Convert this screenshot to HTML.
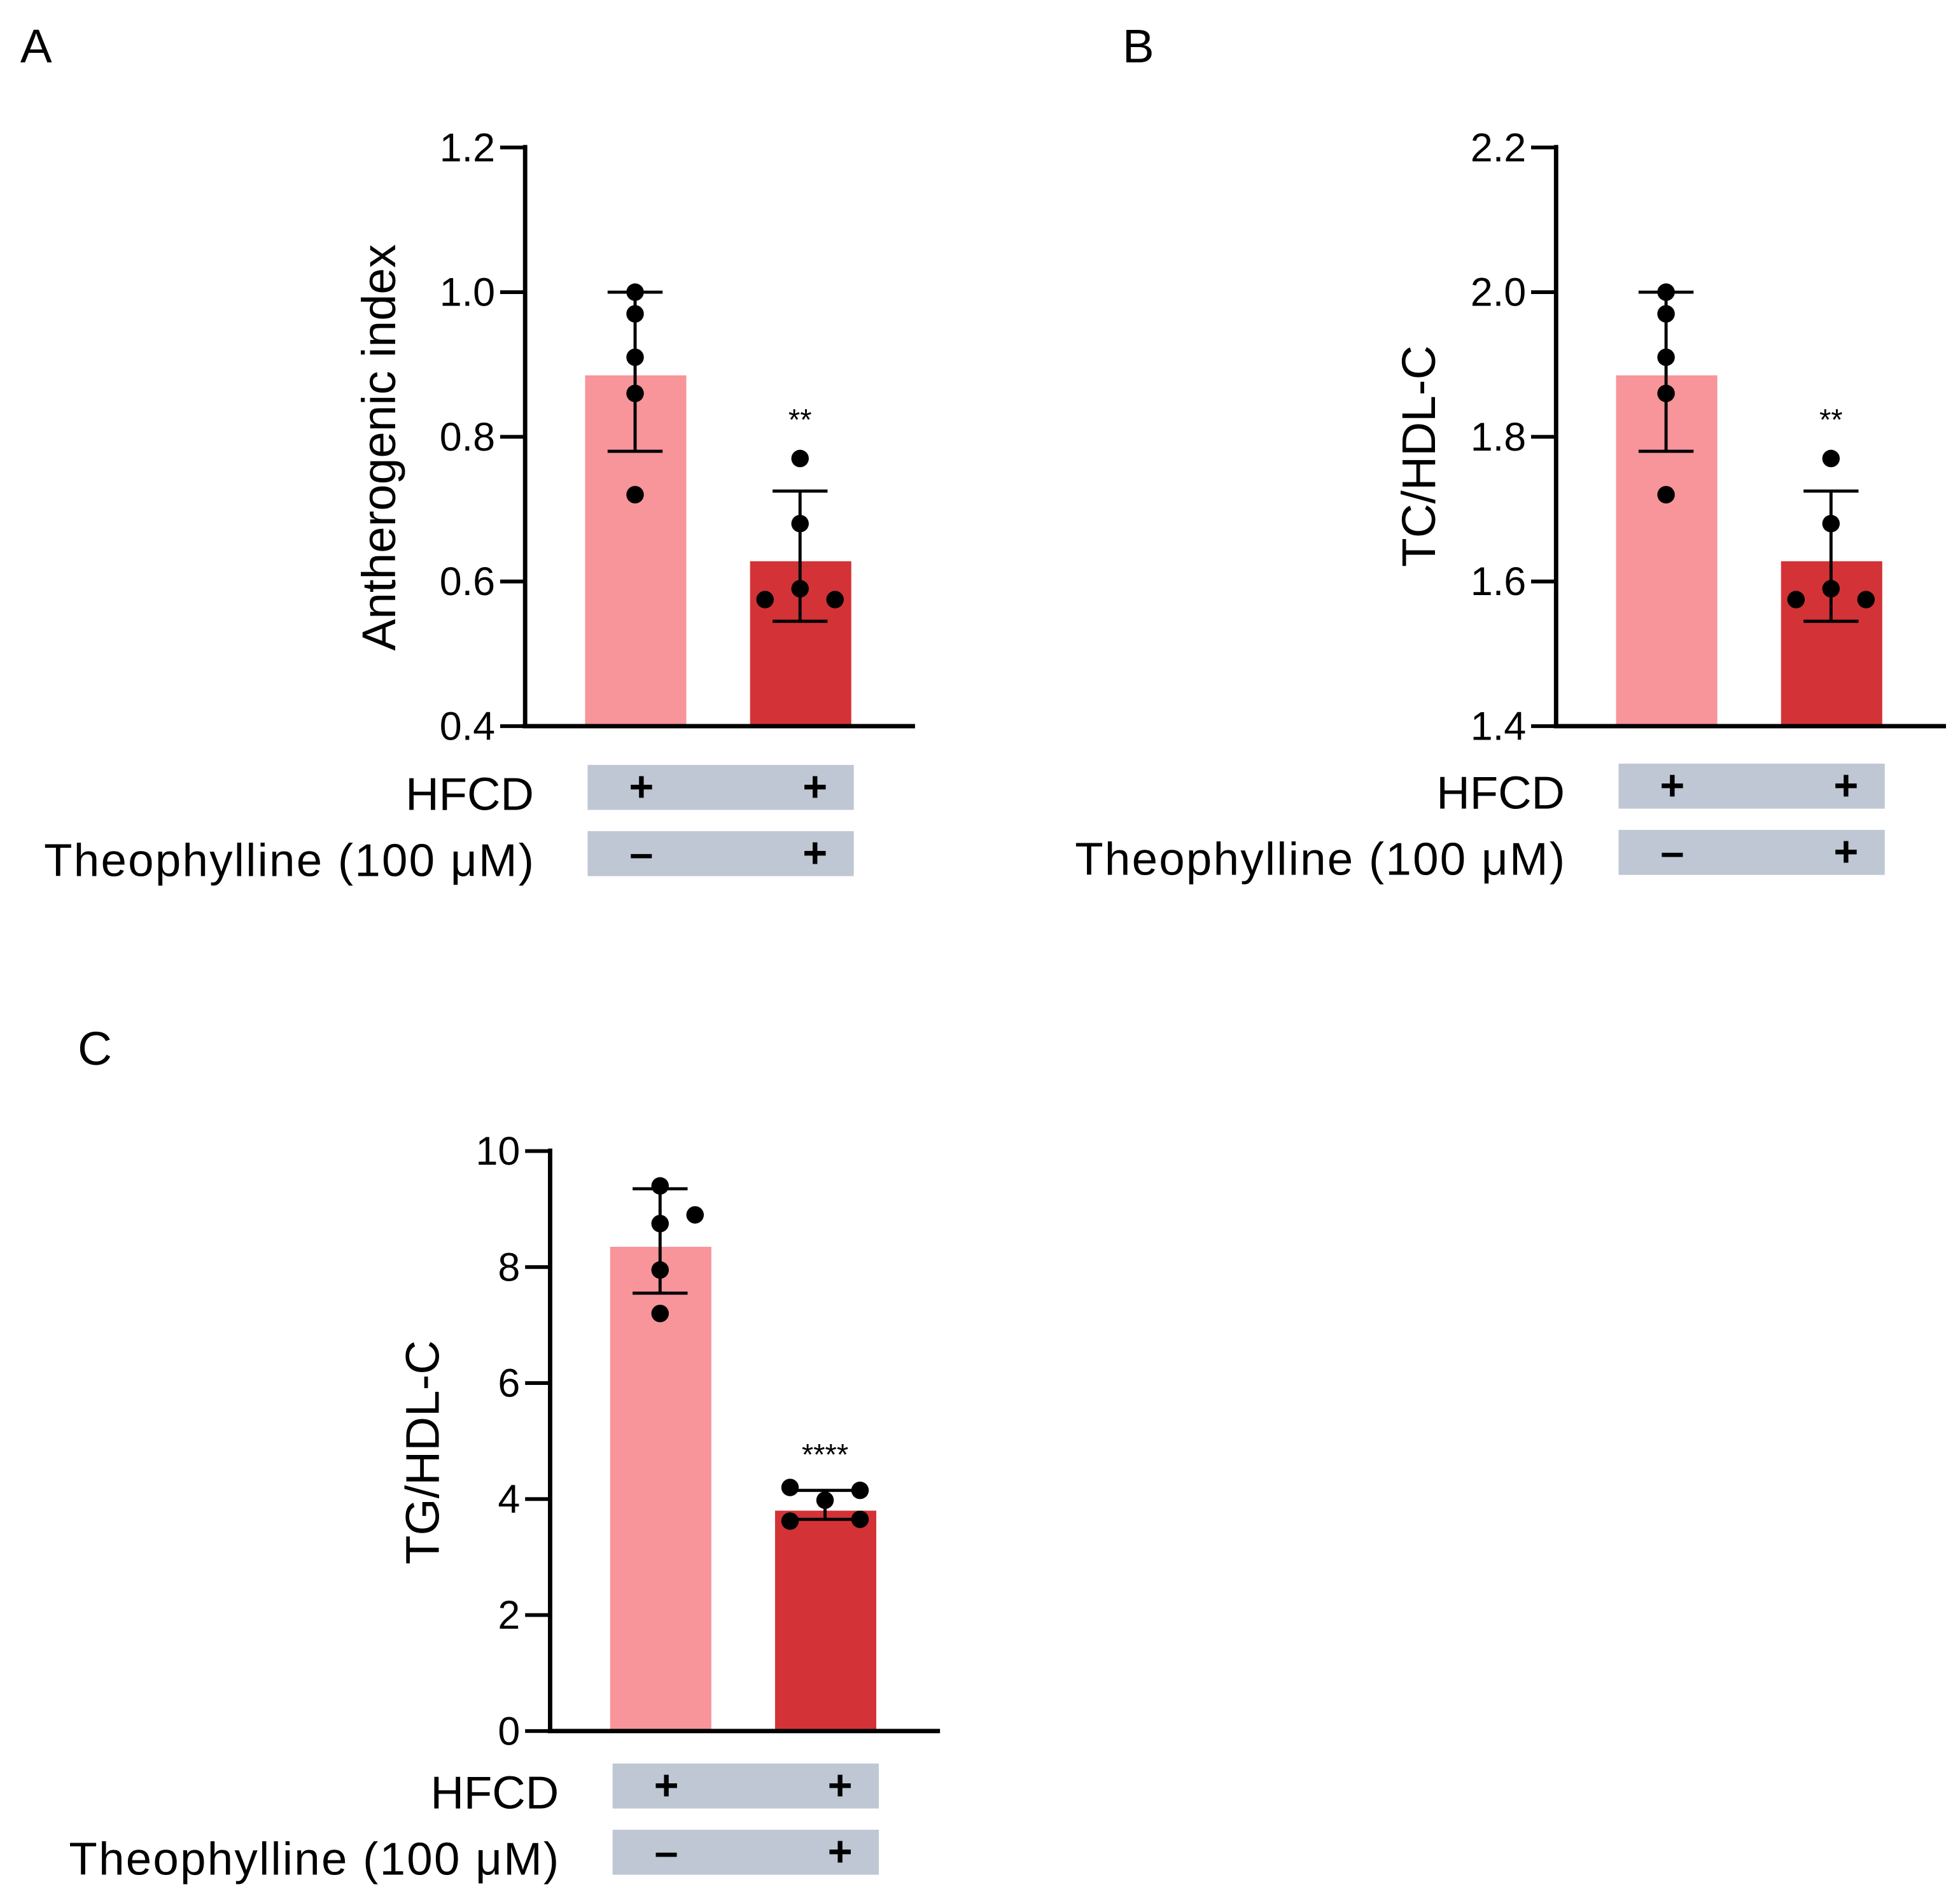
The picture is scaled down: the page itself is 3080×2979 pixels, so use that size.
<!DOCTYPE html>
<html><head><meta charset="utf-8"><style>
html,body{margin:0;padding:0;background:#fff;}
svg{display:block;font-family:"Liberation Sans",Arial,sans-serif;}
</style></head><body>
<svg id="fig" width="3080" height="2979" viewBox="0 0 1568 1517" xmlns="http://www.w3.org/2000/svg"></svg>
<script>
// Panel A data
const catsA = ["HFCD", "HFCD + Theophylline"];
const meansA = [0.885, 0.628];
const errLoA = [0.78, 0.545];
const errHiA = [1.0, 0.725];
const ptsA1 = [1.0, 0.97, 0.91, 0.86, 0.72];
const ptsA2 = [0.77, 0.68, 0.59, 0.575, 0.575];
const ticksA = [0.4, 0.6, 0.8, 1.0, 1.2];
const tickLabelsA = ["0.4", "0.6", "0.8", "1.0", "1.2"];
// Panel B data
const meansB = [1.885, 1.628];
const errLoB = [1.78, 1.545];
const errHiB = [2.0, 1.725];
const ptsB1 = [2.0, 1.97, 1.91, 1.86, 1.72];
const ptsB2 = [1.77, 1.68, 1.59, 1.575, 1.575];
const ticksB = [1.4, 1.6, 1.8, 2.0, 2.2];
const tickLabelsB = ["1.4", "1.6", "1.8", "2.0", "2.2"];
// Panel C data
const meansC = [8.35, 3.8];
const errLoC = [7.55, 3.65];
const errHiC = [9.35, 4.15];
const ptsC1 = [9.4, 8.9, 8.75, 7.95, 7.2];
const ptsC2 = [4.2, 3.98, 4.15, 3.62, 3.65];
const ticksC = [0, 2, 4, 6, 8, 10];
const tickLabelsC = ["0", "2", "4", "6", "8", "10"];
const sigLabels = ["**", "**", "****"];

const NS = "http://www.w3.org/2000/svg";
const svg = document.getElementById("fig");
function mk(tag, attrs, parent, text) {
  const e = document.createElementNS(NS, tag);
  for (const k in attrs) e.setAttribute(k, attrs[k]);
  if (text !== undefined) e.textContent = text;
  (parent || svg).appendChild(e);
  return e;
}

function panel(cfg) {
  const g = mk("g", {});
  
  
  const lo = cfg.ticks[0], hi = cfg.ticks[cfg.ticks.length - 1];
  const y = v => cfg.yBot - (v - lo) / (hi - lo) * (cfg.yBot - cfg.yTop);
  const ax = cfg.axX;
  const L = mk("text", {x: cfg.letterX, y: cfg.letterY, "font-size": 38}, g, cfg.letter);
  
  
  const cols = ["#f7959a", "#d33336"];
  const centers = [ax + 88, ax + 220];
  const pts = [cfg.p1, cfg.p2];
  const offs = [cfg.o1, cfg.o2];
  for (let i = 0; i < 2; i++) {
    const b = mk("rect", {x: centers[i] - 40, y: y(cfg.means[i]), width: 81, height: y(lo) - y(cfg.means[i]), fill: cols[i]}, g);
    
    
    const eb = mk("path", {d: `M${centers[i]} ${y(cfg.lo[i])}V${y(cfg.hi[i])}M${centers[i]-22} ${y(cfg.lo[i])}h44M${centers[i]-22} ${y(cfg.hi[i])}h44`, stroke: "#000", "stroke-width": 2.5, fill: "none"}, g);
    
    
    pts[i].forEach((v, j) => {
      const c = mk("circle", {cx: centers[i] + offs[i][j], cy: y(v), r: 7, fill: "#000"}, g);
      
      
    });
  }
  const s = mk("text", {x: centers[1], y: cfg.sigY, "font-size": 24, "text-anchor": "middle"}, g, cfg.sig);
  
  
  const axes = mk("path", {d: `M${ax} ${cfg.yTop-2}V${cfg.yBot}M${ax-2} ${cfg.yBot}H${ax+312}`, stroke: "#000", "stroke-width": 3.5, fill: "none"}, g);
  
  
  cfg.ticks.forEach((t, i) => {
    mk("line", {x1: ax - 20, x2: ax, y1: y(t), y2: y(t), stroke: "#000", "stroke-width": 3}, g);
    const tl = mk("text", {x: ax - 24, y: y(t) + 11, "font-size": 32, "text-anchor": "end"}, g, cfg.tickLabels[i]);
    
    
  });
  const yt = mk("text", {x: 0, y: 0, "font-size": 38, "text-anchor": "middle", transform: `translate(${cfg.titleX},${cfg.titleY}) rotate(-90)`}, g, cfg.title);
  
  
  const bx = ax + 50;
  [[cfg.row1, "HFCD", ["+", "+"]], [cfg.row2, "Theophylline (100  μM)", ["–", "+"]]].forEach((r, k) => {
    const rect = mk("rect", {x: bx, y: r[0], width: 213, height: 36, fill: "#bfc7d4"}, g);
    
    
    const t = mk("text", {x: ax + 7, y: r[0] + 36, "font-size": 37, "text-anchor": "end"}, g, r[1]);
    if (k) t.setAttribute("textLength", 392);
    
    
    const sx = [centers[0] + 5, centers[1] + 12];
    r[2].forEach((sym, i) => {
      const st = mk("text", {x: sx[i], y: r[0] + 29, "font-size": 34, "font-weight": "bold", "text-anchor": "middle"}, g, sym);
      
      
    });
  });
}

panel({name: "panel-a", letter: "A", letterX: 16, letterY: 50, axX: 420, yTop: 118, yBot: 581,
  ticks: ticksA, tickLabels: tickLabelsA, means: meansA, lo: errLoA, hi: errHiA, p1: ptsA1, p2: ptsA2,
  o1: [0,0,0,0,0], o2: [0,0,0,-28,28], sig: sigLabels[0], sigY: 344, title: "Antherogenic index", titleX: 316, titleY: 358,
  row1: 612, row2: 665});
panel({name: "panel-b", letter: "B", letterX: 898, letterY: 50, axX: 1245, yTop: 118, yBot: 581,
  ticks: ticksB, tickLabels: tickLabelsB, means: meansB, lo: errLoB, hi: errHiB, p1: ptsB1, p2: ptsB2,
  o1: [0,0,0,0,0], o2: [0,0,0,-28,28], sig: sigLabels[1], sigY: 344, title: "TC/HDL-C", titleX: 1148, titleY: 365,
  row1: 611, row2: 664});
panel({name: "panel-c", letter: "C", letterX: 62, letterY: 852, axX: 440, yTop: 921, yBot: 1385,
  ticks: ticksC, tickLabels: tickLabelsC, means: meansC, lo: errLoC, hi: errHiC, p1: ptsC1, p2: ptsC2,
  o1: [0,28,0,0,0], o2: [-28,0,28,-28,28], sig: sigLabels[2], sigY: 1172, title: "TG/HDL-C", titleX: 351, titleY: 1162,
  row1: 1411, row2: 1464});
</script>
</body></html>
